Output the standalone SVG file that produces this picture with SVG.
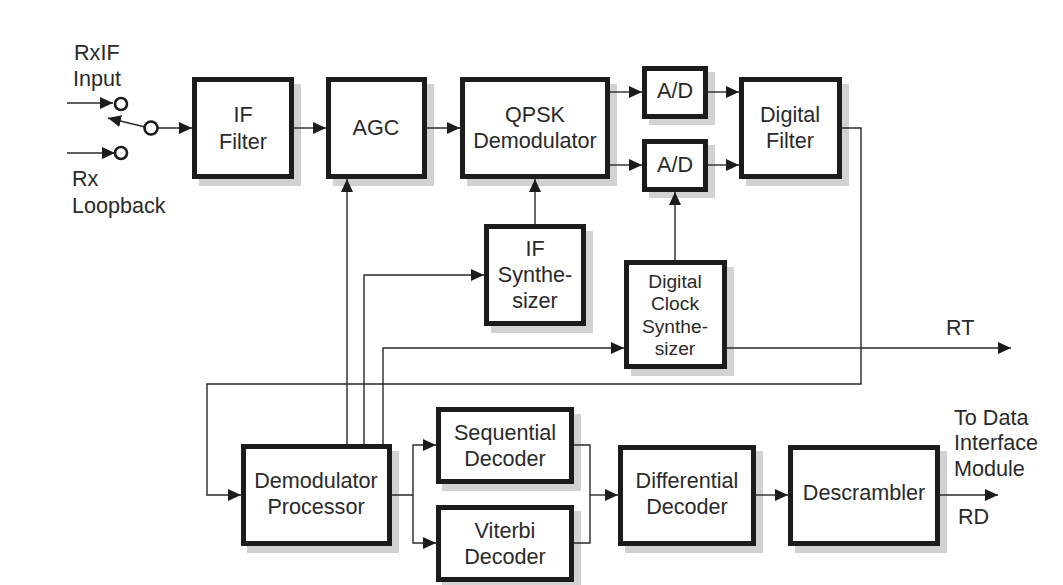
<svg xmlns="http://www.w3.org/2000/svg" width="1063" height="585" viewBox="0 0 1063 585">
<style>
.box{fill:#fff;stroke:#1c1c1c;stroke-width:5}
.sh{fill:#d2d2d2}
.t{font-family:"Liberation Sans",Arial,sans-serif;font-size:21.6px;fill:#2a2a2a;text-anchor:middle}
.l{text-anchor:start}
.s{font-size:19.2px}
.c{fill:none;stroke:#2a2a2a;stroke-width:1.4}
.pin{fill:#fff;stroke:#1c1c1c;stroke-width:2.6}
</style>
<defs>
<marker id="a" markerUnits="userSpaceOnUse" markerWidth="14" markerHeight="12" refX="13" refY="6" orient="auto"><path d="M0,0L13,6L0,12Z" fill="#1c1c1c"/></marker>
</defs>
<rect width="1063" height="585" fill="#fff"/>
<g id="if-filter"><rect class="sh" x="199" y="84" width="102" height="102"/><rect class="box" x="194.500" y="79.500" width="97" height="97"/><text class="t" x="243" y="122">IF</text><text class="t" x="243" y="149">Filter</text></g>
<g id="agc"><rect class="sh" x="333" y="84" width="101" height="102"/><rect class="box" x="328.500" y="79.500" width="96" height="97"/><text class="t" x="376" y="135">AGC</text></g>
<g id="qpsk"><rect class="sh" x="467" y="84" width="150" height="102"/><rect class="box" x="462.500" y="79.500" width="145" height="97"/><text class="t" x="535" y="122">QPSK</text><text class="t" x="535" y="148">Demodulator</text></g>
<g id="ad1"><rect class="sh" x="649" y="72" width="66" height="53"/><rect class="box" x="644.500" y="68.500" width="61" height="48"/><text class="t" x="675" y="98">A/D</text></g>
<g id="ad2"><rect class="sh" x="649" y="145" width="66" height="53"/><rect class="box" x="644.500" y="141.500" width="61" height="48"/><text class="t" x="675" y="172">A/D</text></g>
<g id="digital-filter"><rect class="sh" x="746" y="84" width="103" height="102"/><rect class="box" x="741.500" y="79.500" width="98" height="97"/><text class="t" x="790" y="122">Digital</text><text class="t" x="790" y="148">Filter</text></g>
<g id="if-synth"><rect class="sh" x="491" y="231" width="102" height="102"/><rect class="box" x="486.500" y="226.500" width="97" height="97"/><text class="t" x="535" y="256">IF</text><text class="t" x="535" y="282">Synthe-</text><text class="t" x="535" y="308">sizer</text></g>
<g id="clock-synth"><rect class="sh" x="631" y="267" width="103" height="109"/><rect class="box" x="626.500" y="262.500" width="98" height="104"/><text class="t s" x="675" y="288">Digital</text><text class="t s" x="675" y="310">Clock</text><text class="t s" x="675" y="333">Synthe-</text><text class="t s" x="675" y="355">sizer</text></g>
<g id="demod-proc"><rect class="sh" x="247" y="451" width="152" height="102"/><rect class="box" x="243.500" y="446.500" width="146" height="97"/><text class="t" x="316" y="488">Demodulator</text><text class="t" x="316" y="514">Processor</text></g>
<g id="sequential"><rect class="sh" x="442" y="414" width="139" height="77"/><rect class="box" x="438.500" y="409.500" width="133" height="72"/><text class="t" x="505" y="440">Sequential</text><text class="t" x="505" y="466">Decoder</text></g>
<g id="viterbi"><rect class="sh" x="442" y="511" width="139" height="78"/><rect class="box" x="438.500" y="507.500" width="133" height="72"/><text class="t" x="505" y="538">Viterbi</text><text class="t" x="505" y="564">Decoder</text></g>
<g id="differential"><rect class="sh" x="625" y="451" width="138" height="102"/><rect class="box" x="620.500" y="447.500" width="133" height="96"/><text class="t" x="687" y="488">Differential</text><text class="t" x="687" y="514">Decoder</text></g>
<g id="descrambler"><rect class="sh" x="795" y="451" width="152" height="102"/><rect class="box" x="790.500" y="447.500" width="147" height="96"/><text class="t" x="864" y="500">Descrambler</text></g>
<g id="connectors">
<path class="c" d="M67,103H113" marker-end="url(#a)"/>
<path class="c" d="M67,153H115" marker-end="url(#a)"/>
<path class="c" d="M145,127L108,118" marker-end="url(#a)"/>
<path class="c" d="M158,128H192" marker-end="url(#a)"/>
<path class="c" d="M294,128H326" marker-end="url(#a)"/>
<path class="c" d="M427,128H460" marker-end="url(#a)"/>
<path class="c" d="M610,92H642" marker-end="url(#a)"/>
<path class="c" d="M610,165H642" marker-end="url(#a)"/>
<path class="c" d="M708,92H739" marker-end="url(#a)"/>
<path class="c" d="M708,165H739" marker-end="url(#a)"/>
<path class="c" d="M535,224V179" marker-end="url(#a)"/>
<path class="c" d="M675,260V192" marker-end="url(#a)"/>
<path class="c" d="M347,444V179" marker-end="url(#a)"/>
<path class="c" d="M364,444V275H484" marker-end="url(#a)"/>
<path class="c" d="M383,444V348H624" marker-end="url(#a)"/>
<path class="c" d="M727,348H1011" marker-end="url(#a)"/>
<path class="c" d="M842,128H861V384H207V495H241" marker-end="url(#a)"/>
<path class="c" d="M392,495H413V445H436" marker-end="url(#a)"/>
<path class="c" d="M413,495V543H436" marker-end="url(#a)"/>
<path class="c" d="M574,445H590V543H574"/>
<path class="c" d="M590,495H618" marker-end="url(#a)"/>
<path class="c" d="M756,495H788" marker-end="url(#a)"/>
<path class="c" d="M940,495H998" marker-end="url(#a)"/>
</g>
<g id="rxif-input"><circle class="pin" cx="121" cy="104" r="6"/></g>
<g id="rx-loopback"><circle class="pin" cx="121" cy="153" r="6"/></g>
<g id="switch"><circle class="pin" cx="151" cy="128" r="6.5"/></g>
<g id="labels">
<text class="t l" x="74" y="60">RxIF</text>
<text class="t l" x="73" y="86">Input</text>
<text class="t l" x="72" y="186">Rx</text>
<text class="t l" x="72" y="213">Loopback</text>
<text class="t l" x="946" y="335">RT</text>
<text class="t l" x="954" y="425">To Data</text>
<text class="t l" x="954" y="450">Interface</text>
<text class="t l" x="954" y="476">Module</text>
<text class="t l" x="958" y="524">RD</text>
</g>
</svg>
